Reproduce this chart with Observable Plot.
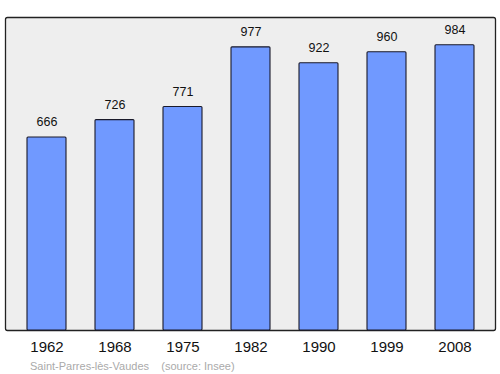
<!DOCTYPE html>
<html>
<head>
<meta charset="utf-8">
<script src="https://cdn.jsdelivr.net/npm/d3@7"></script>
<script src="https://cdn.jsdelivr.net/npm/@observablehq/plot@0.6"></script>
<style>
  body { margin: 0; background: #fff; font-family: "Liberation Sans", Arial, sans-serif; }
  #caption { font-size: 11px; color: #aaaaaa; margin-left: 30px; margin-top: 2px; white-space: pre; }
</style>
</head>
<body>
<div id="chart"></div>
<div id="caption"></div>
<script>
const years = ["1962", "1968", "1975", "1982", "1990", "1999", "2008"];
const population = [666, 726, 771, 977, 922, 960, 984];
const commune = "Saint-Parres-lès-Vaudes";
const source = "(source: Insee)";

const data = years.map((y, i) => ({year: y, pop: population[i]}));

const chart = Plot.plot({
  width: 500,
  height: 358,
  marginTop: 17,
  marginBottom: 28,
  marginLeft: 5,
  marginRight: 5,
  style: {fontFamily: "Liberation Sans, Arial, sans-serif", background: "#fff"},
  x: {domain: years, range: [11.3, 489.7], paddingInner: 0.43, paddingOuter: 0.215, label: null},
  y: {domain: [0, 1080], axis: null},
  marks: [
    Plot.frame({fill: "#eeeeee", stroke: "#222", strokeWidth: 1.3, rx: 2}),
    Plot.barY(data, {x: "year", y: "pop", fill: "#7099ff", stroke: "#1a1a2a", strokeWidth: 1.1, rx: 1}),
    Plot.text(data, {x: "year", y: "pop", text: d => String(d.pop), lineAnchor: "middle", dy: -15, fontSize: 12.5, fill: "#111"}),
    Plot.axisX({tickSize: 0, tickPadding: 11, fontSize: 15, color: "#111"})
  ]
});
document.getElementById("chart").appendChild(chart);
document.getElementById("caption").textContent = commune + "    " + source;
</script>
</body>
</html>
